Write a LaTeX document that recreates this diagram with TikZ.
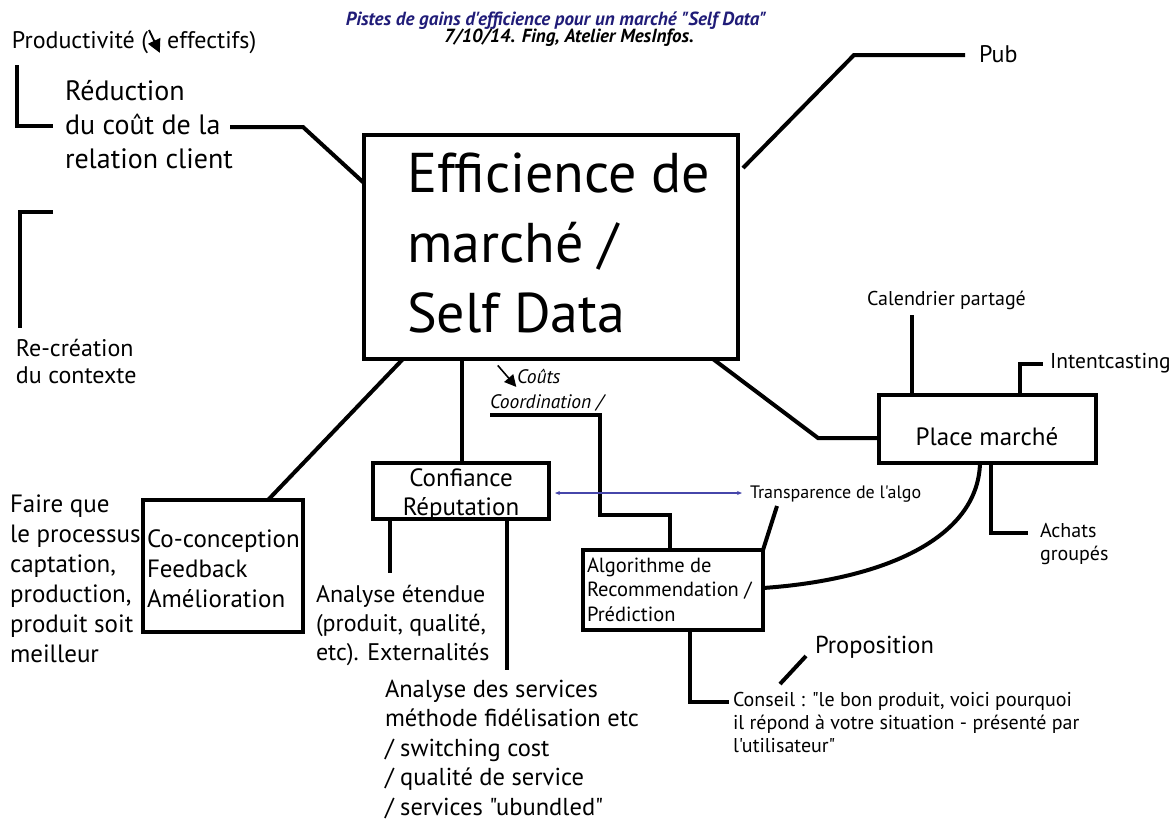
\documentclass[tikz,border=0pt]{standalone}
\usepackage{fontspec}
\setmainfont{PT Sans}[Ligatures=TeXOff]
\usetikzlibrary{calc,arrows.meta}
\definecolor{titleblue}{RGB}{32,28,120}
\definecolor{linkblue}{RGB}{70,70,170}
% multi-line text block whose baseline is the first line
\newcommand\ml[2]{\begin{tabular}[t]{@{}#1@{}}#2\end{tabular}}
\newcommand\fs[2]{\fontsize{#1}{#2}\selectfont}
% "decrease" arrows used inside labels: steep one and diagonal one
\newcommand\sedarrow{\tikz[baseline=0pt]\draw[line width=0.08em,-{Triangle[length=0.55em,width=0.55em]}] (0,0.75em) -- (0.45em,-0.2em);}
\newcommand\sediag{\tikz[baseline=0pt]\draw[line width=0.08em,-{Triangle[length=0.6em,width=0.6em]}] (0,0.9em) -- (0.95em,-0.2em);}

\begin{document}
\begin{tikzpicture}[x=1pt,y=-1pt,
  conn/.style={line width=4pt, line join=miter},
  box/.style={draw, line width=4pt, inner sep=0pt, outer sep=0pt},
  lbl/.style={inner sep=0pt, outer sep=0pt, anchor=base west},
  tlink/.style={draw=linkblue, line width=1.3pt, {Stealth[length=5pt,width=4pt]}-{Stealth[length=5pt,width=4pt]}},
]
\useasboundingbox[fill=white] (0,0) rectangle (1176,820);

% title
\node[lbl, anchor=base, font=\fs{19}{17}\bfseries\itshape, text=titleblue] (title) at (556,25) {Pistes de gains d'efficience pour un marché "Self Data"};
\node[lbl, anchor=base, font=\fs{19}{17}\bfseries\itshape] (subtitle) at (569,42) {7/10/14. Fing, Atelier MesInfos.};

% boxes
\node[box, minimum width=374pt, minimum height=224pt] (eff) at (551,247) {};
\node[box, minimum width=176pt, minimum height=56pt] (conf) at (461,491) {};
\node[box, minimum width=160pt, minimum height=132pt] (co) at (223,566) {};
\node[box, minimum width=180pt, minimum height=80pt] (algo) at (673,590) {};
\node[box, minimum width=217pt, minimum height=68pt] (place) at (987.5,429) {};

% box texts
\node[lbl, font=\fs{56}{70}] (efftxt) at (407,192) {\ml{l}{Efficience de\\marché /\\Self Data}};
\node[lbl, anchor=base, font=\fs{25}{29}] (conftxt) at (461,486) {\ml{c}{Confiance\\Réputation}};
\node[lbl, font=\fs{25}{30}] (cotxt) at (147,547) {\ml{l}{Co-conception\\Feedback\\Amélioration}};
\node[lbl, font=\fs{20.5}{24.5}] (algotxt) at (587,572) {\ml{l}{Algorithme de\\Recommendation /\\Prédiction}};
\node[lbl, anchor=base, font=\fs{25}{30}] (placetxt) at (987,445) {Place marché};

% free labels
\node[lbl, font=\fs{24}{28}] (prod) at (12,48) {Productivité (\sedarrow{} effectifs)};
\node[lbl, font=\fs{28}{34}] (red) at (65,100) {\ml{l}{Réduction\\du coût de la\\relation client}};
\node[lbl, font=\fs{24}{28}] (pub) at (979,62) {Pub};
\node[lbl, font=\fs{24}{27}] (recr) at (16,356) {\ml{l}{Re-création\\du contexte}};
\node[lbl, font=\fs{25}{30}] (faire) at (10,512) {\ml{l}{Faire que\\le processus\\captation,\\production,\\produit soit\\meilleur}};
\node[lbl, font=\fs{24}{29}] (anaet) at (316,602) {\ml{l}{Analyse étendue\\(produit, qualité,\\etc). Externalités}};
\node[lbl, font=\fs{24.5}{29.5}] (anaserv) at (385,697) {\ml{l}{Analyse des services\\méthode fidélisation etc\\/ switching cost\\/ qualité de service\\/ services "ubundled"}};
\node[lbl, font=\fs{19.5}{25}\itshape] (couts) at (490,383) {\ml{l}{\hspace{7pt}\sediag Coûts\\Coordination /}};
\node[lbl, font=\fs{18}{22}] (transp) at (750,498) {Transparence de l'algo};
\node[lbl, font=\fs{20}{24}] (cal) at (867,305) {Calendrier partagé};
\node[lbl, font=\fs{21.5}{26}] (intent) at (1050,368) {Intentcasting};
\node[lbl, font=\fs{20}{23}] (achats) at (1040,537) {\ml{l}{Achats\\groupés}};
\node[lbl, font=\fs{24.5}{28}] (prop) at (815,653) {Proposition};
\node[lbl, font=\fs{20}{23}] (conseil) at (733,706) {\ml{l}{Conseil : "le bon produit, voici pourquoi\\il répond à votre situation - présenté par\\l'utilisateur"}};

% free ends of connectors
\coordinate (prodend) at (17,65);
\coordinate (redbr) at (53,126);
\coordinate (redend) at (230,127);
\coordinate (pubend) at (965,55);
\coordinate (recrtop) at (53,212);
\coordinate (recrend) at (20,328);
\coordinate (anaetend) at (390,573);
\coordinate (anaservend) at (507,670);
\coordinate (coutsend) at (490,415);
\coordinate (transpend) at (777,506);
\coordinate (calend) at (912,315);
\coordinate (intentend) at (1043,364);
\coordinate (achatsend) at (1028,533);
\coordinate (conseilend) at (729,702);
\coordinate (propa) at (780,684);
\coordinate (propb) at (806,656);

% connectors
\draw[conn] (prodend) -- (17,126) -- (redbr);
\draw[conn] (recrtop) -- (20,212) -- (recrend);
\draw[conn] (redend) -- (303,127) -- ($(eff.north west)+(0,48)$);
\draw[conn] ($(eff.north east)+(5,33)$) -- (854,55) -- (pubend);
\draw[conn] ($(eff.south west)+(39,0)$) -- ($(co.north west)+(125,0)$);
\draw[conn] ($(eff.south west)+(98,0)$) -- ($(conf.north west)+(89,0)$);
\draw[conn] ($(eff.south east)+(-25,0)$) -- (818,438) -- ($(place.north west)+(0,43)$);
\draw[conn] ($(conf.south west)+(17,0)$) -- (anaetend);
\draw[conn] ($(conf.south west)+(134,0)$) -- (anaservend);
\draw[conn] (coutsend) -- (600,415) -- (600,515) -- (670,515) -- ($(algo.north west)+(87,0)$);
\draw[tlink] ($(conf.east)+(6,2)$) -- ($(transp.base west)+(-8,-5)$);
\draw[conn] (transpend) -- (algo.north east);
\draw[conn] ($(algo.east)+(0,-2)$) .. controls (880,580) and (978,540) .. ($(place.south west)+(101,0)$);
\draw[conn] ($(algo.south west)+(107,0)$) -- (690,702) -- (conseilend);
\draw[conn] (propa) -- (propb);
\draw[conn] ($(place.north west)+(33,0)$) -- (calend);
\draw[conn] ($(place.north west)+(141,0)$) -- (1020,364) -- (intentend);
\draw[conn] ($(place.south west)+(112,0)$) -- (991,533) -- (achatsend);
\end{tikzpicture}
\end{document}
